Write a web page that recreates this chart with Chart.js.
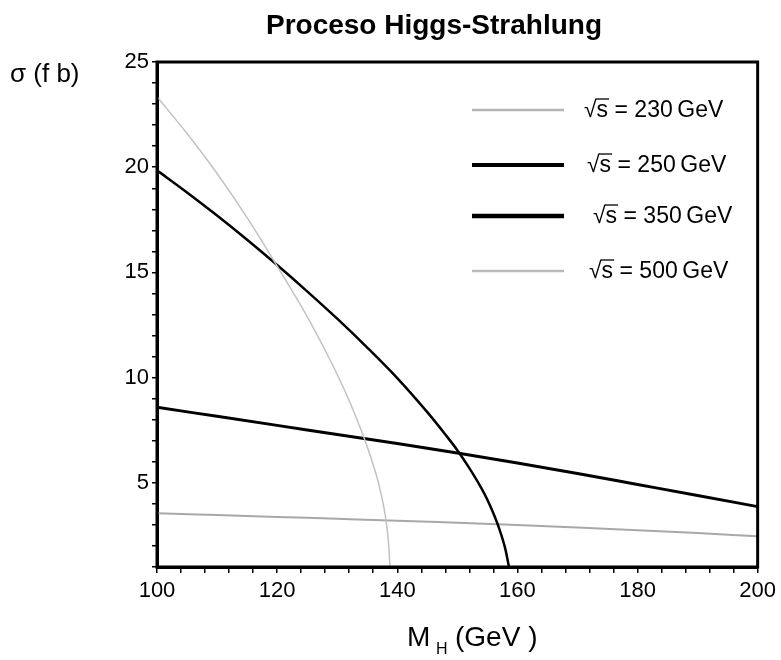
<!DOCTYPE html>
<html>
<head>
<meta charset="utf-8">
<script src="https://cdn.jsdelivr.net/npm/chart.js@4.4.1/dist/chart.umd.min.js"></script>
<style>
  html, body { margin: 0; padding: 0; background: #fff; }
  #wrap { width: 781px; height: 660px; position: relative; }
</style>
</head>
<body>
<div id="wrap"><canvas id="c" width="781" height="660"></canvas></div>
<script>
// ---- Data ----
const chartTitle = "Proceso Higgs-Strahlung";
const yAxisLabel = "σ (f b)";
const xAxisMain = "M";
const xAxisSub = "H";
const xAxisUnit = "(GeV )";
const seriesNames = ["230", "250", "350", "500"];

const mh230 = [100, 105, 110, 115, 120, 125, 128, 130, 132, 134, 135, 136, 137, 138, 138.5, 138.8];
const sigma230 = [23.35, 21.6, 19.7, 17.6, 15.3, 12.9, 11.3, 10.15, 8.9, 7.5, 6.72, 5.85, 4.85, 3.45, 2.3, 1.0];

const mh250 = [100, 105, 110, 115, 120, 125, 130, 135, 140, 145, 148, 150, 152, 154, 155, 156, 157, 158, 158.6];
const sigma250 = [19.85, 18.8, 17.7, 16.55, 15.35, 14.1, 12.8, 11.43, 9.98, 8.36, 7.3, 6.55, 5.7, 4.75, 4.2, 3.55, 2.8, 1.85, 1.0];

const mh350 = [100, 110, 120, 130, 140, 150, 160, 170, 180, 190, 200];
const sigma350 = [8.59, 8.16, 7.73, 7.30, 6.87, 6.42, 5.94, 5.44, 4.92, 4.40, 3.87];

const mh500 = [100, 110, 120, 130, 140, 150, 160, 170, 180, 190, 200];
const sigma500 = [3.56, 3.47, 3.38, 3.29, 3.20, 3.10, 3.00, 2.88, 2.75, 2.61, 2.46];

const xMin = 100, xMax = 200, xMinorStep = 4, xMajorStep = 20;
const yMin = 1, yMax = 25, yMinorStep = 1, yMajorStep = 5;

// ---- Styles ----
const FONT = "'Liberation Sans', Arial, Helvetica, sans-serif";
const styles = [
  { color: '#c2c2c2', width: 1.5, legendColor: '#b4b4b4', legendWidth: 2.5, legendTextX: 584, legendY: 110 },
  { color: '#000000', width: 2.5, legendColor: '#000000', legendWidth: 4,   legendTextX: 587, legendY: 165 },
  { color: '#000000', width: 3,   legendColor: '#000000', legendWidth: 4.5, legendTextX: 593, legendY: 216 },
  { color: '#a8a8a8', width: 2,   legendColor: '#bababa', legendWidth: 2.5, legendTextX: 589, legendY: 271 }
];

function pts(xs, ys) { return xs.map((x, i) => ({ x: x, y: ys[i] })); }
const allX = [mh230, mh250, mh350, mh500];
const allY = [sigma230, sigma250, sigma350, sigma500];

const datasets = seriesNames.map((n, i) => ({
  label: '√s = ' + n + ' GeV',
  data: pts(allX[i], allY[i]),
  borderColor: styles[i].color,
  borderWidth: styles[i].width,
  pointRadius: 0,
  fill: false,
  cubicInterpolationMode: 'monotone'
}));

const decorPlugin = {
  id: 'decor',
  afterDraw(chart) {
    const ctx = chart.ctx;
    const a = chart.chartArea;
    ctx.save();
    // frame
    ctx.strokeStyle = '#000';
    ctx.lineWidth = 3;
    ctx.strokeRect(a.left, a.top, a.right - a.left, a.bottom - a.top);

    ctx.fillStyle = '#000';
    // title
    ctx.font = 'bold 28px ' + FONT;
    ctx.textAlign = 'center';
    ctx.textBaseline = 'middle';
    ctx.fillText(chartTitle, 434, 26);

    // y label
    ctx.font = '26px ' + FONT;
    ctx.textAlign = 'left';
    ctx.textBaseline = 'middle';
    ctx.fillText(yAxisLabel, 10, 75);

    // x label with subscript
    ctx.textBaseline = 'alphabetic';
    ctx.font = '28px ' + FONT;
    ctx.fillText(xAxisMain, 407, 646);
    ctx.font = '16px ' + FONT;
    ctx.fillText(xAxisSub, 436, 654);
    ctx.font = '28px ' + FONT;
    ctx.fillText(xAxisUnit, 455, 646);

    // legend
    seriesNames.forEach((n, i) => {
      const s = styles[i];
      ctx.strokeStyle = s.legendColor;
      ctx.lineWidth = s.legendWidth;
      ctx.beginPath();
      ctx.moveTo(472, s.legendY);
      ctx.lineTo(564, s.legendY);
      ctx.stroke();

      ctx.font = '23px ' + FONT;
      ctx.textBaseline = 'middle';
      ctx.textAlign = 'left';
      let x = s.legendTextX;
      const ty = s.legendY + 1;
      ctx.fillText('√', x, ty);
      const wr = ctx.measureText('√').width;
      x += wr;
      ctx.fillText('s', x, ty);
      const ws = ctx.measureText('s').width;
      // overline of the root
      ctx.strokeStyle = '#000';
      ctx.lineWidth = 1.3;
      ctx.beginPath();
      ctx.moveTo(x - 1, ty - 12);
      ctx.lineTo(x + ws + 1, ty - 12);
      ctx.stroke();
      x += ws;
      ctx.fillText(' = ' + n + '\u2009GeV', x, ty);
    });
    ctx.restore();
  }
};

new Chart(document.getElementById('c'), {
  type: 'line',
  data: { datasets: datasets },
  plugins: [decorPlugin],
  options: {
    responsive: false,
    animation: false,
    devicePixelRatio: 1,
    layout: { padding: { left: 0, top: 62, right: 20, bottom: 53 } },
    plugins: { legend: { display: false }, title: { display: false }, tooltip: { enabled: false } },
    scales: {
      x: {
        type: 'linear',
        min: xMin, max: xMax,
        afterFit(scale) { scale.height = 40; },
        ticks: {
          stepSize: xMinorStep,
          autoSkip: false,
          maxRotation: 0,
          padding: 5,
          color: '#000',
          font: { family: FONT, size: 22 },
          callback: (v) => (v % xMajorStep === 0 ? String(v) : '')
        },
        grid: { drawOnChartArea: false, drawTicks: true, tickLength: 6, color: '#000', lineWidth: 1.5 },
        border: { display: true, color: '#000', width: 3 }
      },
      y: {
        type: 'linear',
        min: yMin, max: yMax,
        afterFit(scale) { scale.width = 157; },
        ticks: {
          stepSize: yMinorStep,
          autoSkip: false,
          padding: 3,
          color: '#000',
          font: { family: FONT, size: 22 },
          callback: (v) => (v % yMajorStep === 0 ? String(v) : '')
        },
        grid: { drawOnChartArea: false, drawTicks: true, tickLength: 5, color: '#000', lineWidth: 1.5 },
        border: { display: true, color: '#000', width: 3 }
      }
    }
  }
});
</script>
</body>
</html>
